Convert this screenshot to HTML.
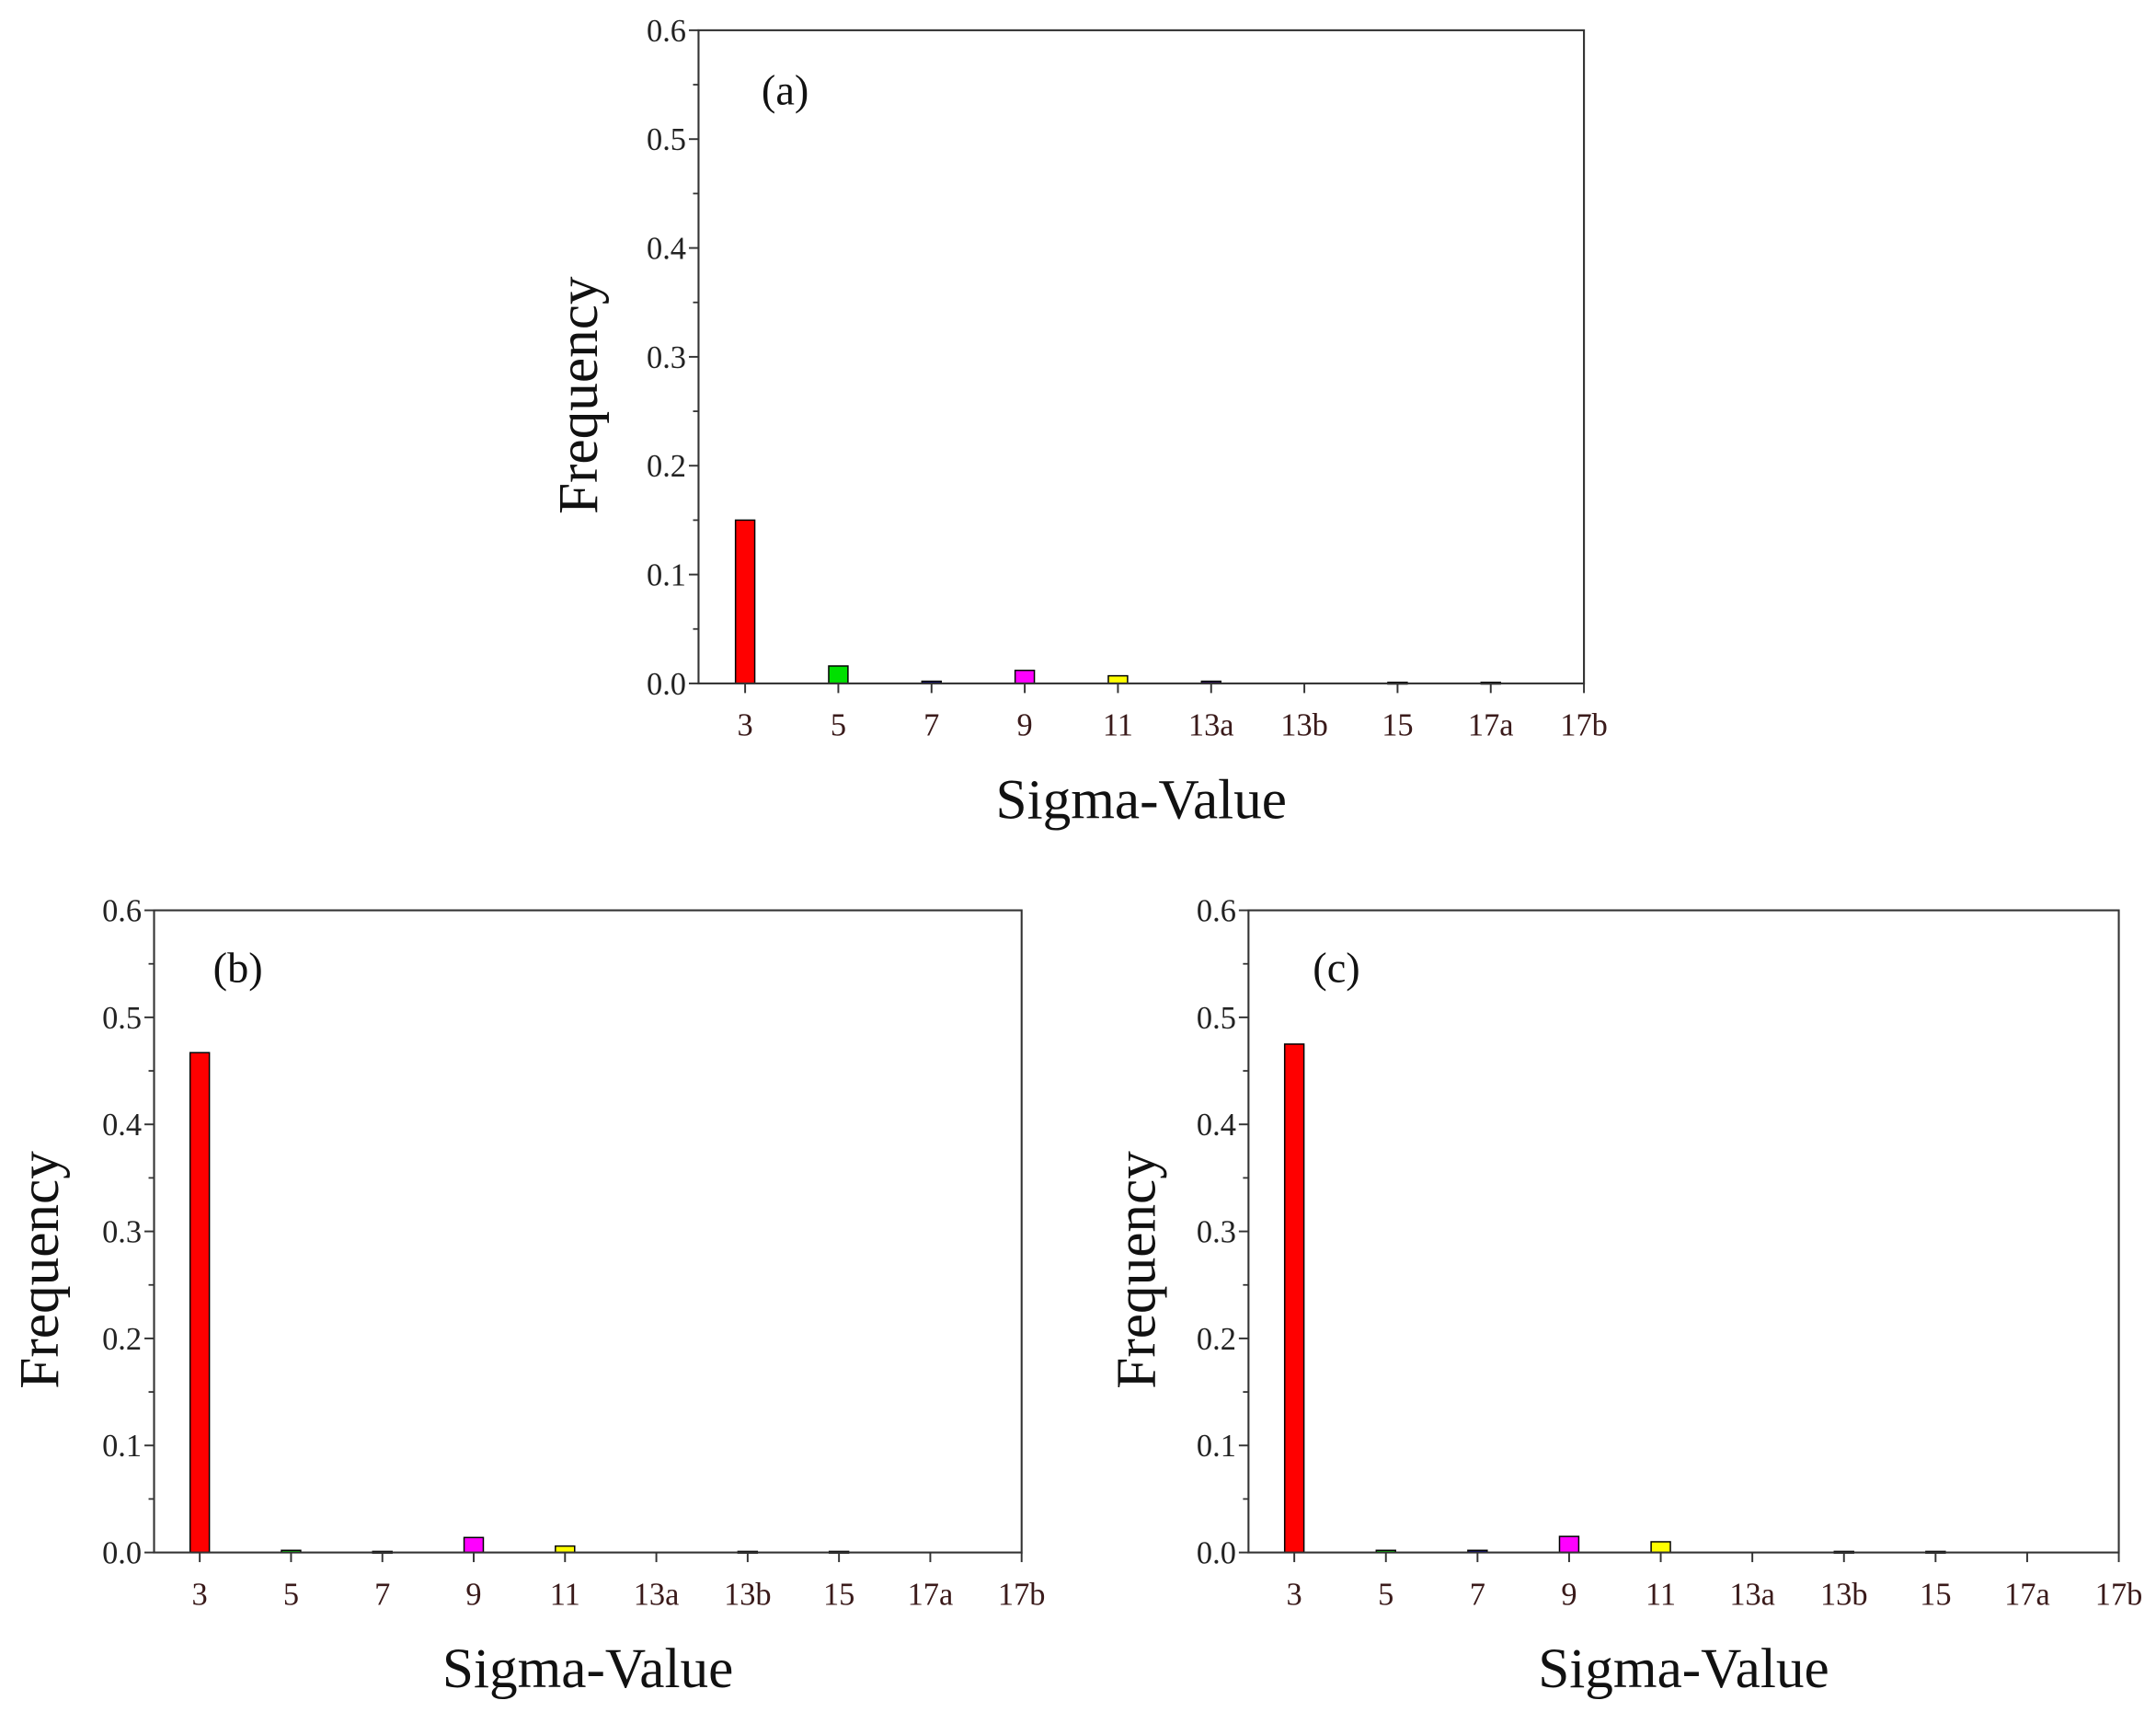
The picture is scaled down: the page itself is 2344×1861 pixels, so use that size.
<!DOCTYPE html>
<html><head><meta charset="utf-8"><style>
html,body{margin:0;padding:0;background:#fff;}
svg{display:block;font-family:"Liberation Serif",serif;}
</style></head><body>
<svg id="fig" width="2344" height="1861" viewBox="0 0 1568 1245" xmlns="http://www.w3.org/2000/svg"></svg>
<script>
const categories = ["3","5","7","9","11","13a","13b","15","17a","17b"];
const barColors = ["#ff0000","#00e000","#000090","#ff00ff","#ffff00","#300070","#202020","#202020","#202020","#202020"];
const yTicks = [0.0,0.1,0.2,0.3,0.4,0.5,0.6];
const yTickLabels = ["0.0","0.1","0.2","0.3","0.4","0.5","0.6"];
const valuesA = [0.150,0.016,0.002,0.012,0.007,0.002,0,0.001,0.001,0];
const valuesB = [0.467,0.002,0.001,0.014,0.006,0,0.001,0.001,0,0];
const valuesC = [0.475,0.002,0.002,0.015,0.010,0,0.001,0.001,0,0];

const NS="http://www.w3.org/2000/svg";
const svg=document.getElementById('fig');
function mk(tag,attrs,parent){const e=document.createElementNS(NS,tag);for(const k in attrs)e.setAttribute(k,attrs[k]);parent.appendChild(e);return e;}

function panel(id,L,R,T,B,vals,label,lx,ly,fx){
  const g=mk('g',{},svg);
  
  
  const x=i=>L+(i+1-0.5)/(10-0.5)*(R-L);
  const y=v=>B-(v/0.6)*(B-T);
  vals.forEach((v,i)=>{
    const h=Math.max(B-y(v),0);
    if(v<=0)return;
    const r=mk('rect',{x:x(i)-7,y:y(v),width:14,height:Math.max(h,1.2),fill:barColors[i],stroke:'#000','stroke-width':1},g);
    
    
  });
  const f=mk('rect',{x:L,y:T,width:R-L,height:B-T,fill:'none',stroke:'#333','stroke-width':1.4},g);
  
  
  yTicks.forEach((t,i)=>{
    mk('line',{x1:L-7,x2:L,y1:y(t),y2:y(t),stroke:'#333','stroke-width':1.3},g);
    const tx=mk('text',{x:L-9,y:y(t)+8,'text-anchor':'end','font-size':23,fill:'#222'},g);
    tx.textContent=yTickLabels[i];
    
    
    if(i<yTicks.length-1){const m=y(t+0.05);mk('line',{x1:L-4,x2:L,y1:m,y2:m,stroke:'#333','stroke-width':1.2},g);}
  });
  categories.forEach((c,i)=>{
    mk('line',{x1:x(i),x2:x(i),y1:B,y2:B+7,stroke:'#333','stroke-width':1.3},g);
    const tx=mk('text',{x:x(i),y:B+38,'text-anchor':'middle','font-size':23,fill:'#3a1a1a'},g);
    tx.textContent=c;
    
    
  });
  const pl=mk('text',{x:lx,y:ly,'text-anchor':'middle','font-size':31,fill:'#111'},g);
  pl.textContent=label;
  
  
  const xt=mk('text',{x:(L+R)/2,y:B+98,'text-anchor':'middle','font-size':41,fill:'#111'},g);
  xt.textContent='Sigma-Value';
  
  
  const cy=(T+B)/2+28;
  const yt=mk('text',{x:fx,y:cy,'text-anchor':'middle','font-size':41,fill:'#111',transform:'rotate(-90 '+fx+' '+cy+')'},g);
  yt.textContent='Frequency';
  
  
}
panel('a',508,1152,22,497,valuesA,'(a)',571,76,434);
panel('b',112,743,662,1129,valuesB,'(b)',173,714,42);
panel('c',908,1541,662,1129,valuesC,'(c)',972,714,840);
</script>
</body></html>
